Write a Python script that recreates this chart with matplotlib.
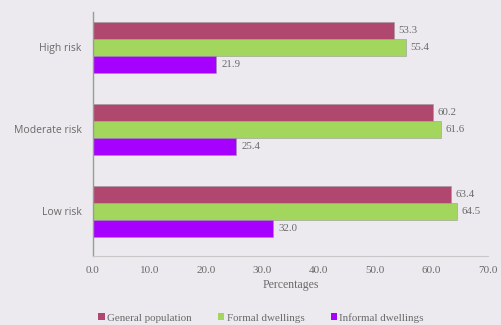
import numpy as np
import matplotlib.pyplot as plt

categories = ['High risk', 'Moderate risk', 'Low risk']
series = ['General population', 'Formal dwellings', 'Informal dwellings']
general = [53.3, 60.2, 63.4]
formal = [55.4, 61.6, 64.5]
informal = [21.9, 25.4, 32.0]
colors = ['#B0476F', '#A2D65C', '#A600FF']
xticks = [0, 10, 20, 30, 40, 50, 60, 70]

bg = '#ECEAEE'
txt = '#6A6A6A'
serif = 'Liberation Serif'

fig = plt.figure(figsize=(5.02, 3.25), dpi=100, facecolor=bg)
ax = fig.add_axes([0.185, 0.212, 0.787, 0.751], facecolor=bg)

pos = np.array([2, 1, 0])
h = 0.207
for i, (vals, col, lab) in enumerate(zip([general, formal, informal], colors, series)):
    y = pos + h - i * h
    bars = ax.barh(y, vals, height=h, color=col, edgecolor='#9A9A9A', linewidth=0.4, label=lab)
    for b, v in zip(bars, vals):
        ax.text(v + 0.9, b.get_y() + h / 2, f'{v:.1f}', va='center', ha='left',
                fontsize=7.8, color=txt, family=serif)

ax.set_xlim(0, 70)
ax.set_ylim(-0.549, 2.427)
ax.set_xticks(xticks)
ax.set_xticklabels([f'{t:.1f}' for t in xticks], fontsize=8, color=txt, family=serif)
ax.set_yticks(pos)
ax.set_yticklabels(categories, fontsize=7.5, color=txt, family='Open Sans')
ax.tick_params(length=0, pad=7)
ax.tick_params(axis='y', pad=8)
for s in ['top', 'right']:
    ax.spines[s].set_visible(False)
ax.spines['left'].set_color('#9A9A9A')
ax.spines['left'].set_linewidth(1.0)
ax.spines['bottom'].set_color('#C8C8C8')
ax.spines['bottom'].set_linewidth(0.8)
ax.set_xlabel('Percentages', fontsize=8.5, color=txt, family=serif, labelpad=3)

leg = fig.legend(loc='center', bbox_to_anchor=(0.52, 0.022), ncol=3, frameon=False,
                 handlelength=0.6, handleheight=0.6, handletextpad=0.2,
                 columnspacing=2.4, prop={'family': serif, 'size': 7.9})
for t in leg.get_texts():
    t.set_color(txt)
for p in leg.get_patches():
    p.set_edgecolor('none')

fig.savefig('out.png', dpi=100, facecolor=bg)
